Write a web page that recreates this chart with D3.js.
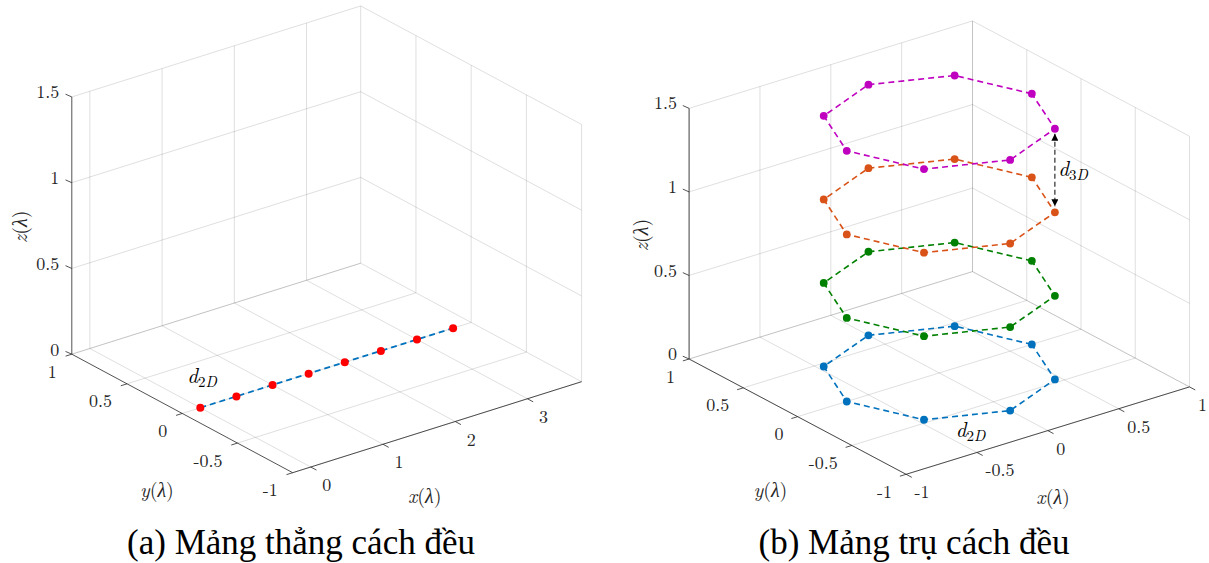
<!DOCTYPE html>
<html>
<head>
<meta charset="utf-8">
<script src="https://cdn.jsdelivr.net/npm/d3@7"></script>
<style>
  body { margin: 0; background: #fff; }
</style>
</head>
<body>
<svg id="chart" width="1209" height="563"></svg>
<script>
// ---- data, panel (a): uniform linear array on the x axis ----
const xTicksA = [0, 1, 2, 3];
const yTicksA = [-1, -0.5, 0, 0.5, 1];
const zTicksA = [0, 0.5, 1, 1.5];
const linearX = [0, 0.5, 1, 1.5, 2, 2.5, 3, 3.5];
const linearY = [0, 0, 0, 0, 0, 0, 0, 0];
const linearZ = [0, 0, 0, 0, 0, 0, 0, 0];

// ---- data, panel (b): stacked octagon rings (cylindrical array) ----
const xTicksB = [-1, -0.5, 0, 0.5, 1];
const yTicksB = [-1, -0.5, 0, 0.5, 1];
const zTicksB = [0, 0.5, 1, 1.5];
const ringX = [0.653, 0.462, 0, -0.462, -0.653, -0.462, 0, 0.462];
const ringY = [0, 0.462, 0.653, 0.462, 0, -0.462, -0.653, -0.462];
const ringLevels = [0, 0.5, 1, 1.5];
const ringColors = ["#0072BD", "#008000", "#D95319", "#BF00BF"];

const captions = ["(a) Mảng thẳng cách đều", "(b) Mảng trụ cách đều"];

const TEX = "'Latin Modern Roman'";   // MATLAB latex interpreter look
const CAP = "'Liberation Serif'";
const svg = d3.select("#chart");

svg.append("defs").append("marker")
    .attr("id", "arrowHead")
    .attr("viewBox", "0 0 10 10")
    .attr("refX", 10).attr("refY", 5)
    .attr("markerWidth", 7).attr("markerHeight", 7)
    .attr("markerUnits", "userSpaceOnUse")
    .attr("orient", "auto-start-reverse")
    .append("path")
    .attr("d", "M0,0 L10,5 L0,10 z")
    .attr("fill", "#000");

// orthographic view built from three floor corners (L = xmin/ymax, F = xmin/ymin, R = xmax/ymin)
function makeProjection(c) {
    const sx = d3.scaleLinear().domain(c.xDomain).range([0, 1]);
    const sy = d3.scaleLinear().domain(c.yDomain).range([0, 1]);
    const sz = d3.scaleLinear().domain([0, 1]).range([0, -c.zUnit]);
    const ex = [c.R[0] - c.F[0], c.R[1] - c.F[1]];
    const ey = [c.L[0] - c.F[0], c.L[1] - c.F[1]];
    const proj = (x, y, z) => [
        c.F[0] + sx(x) * ex[0] + sy(y) * ey[0],
        c.F[1] + sx(x) * ex[1] + sy(y) * ey[1] + sz(z)
    ];
    const unit = v => { const n = Math.hypot(v[0], v[1]); return [v[0] / n, v[1] / n]; };
    proj.xOut = unit([-ey[0], -ey[1]]);
    proj.yOut = unit([-ex[0], -ex[1]]);
    return proj;
}

function drawFrame(g, proj, c) {
    const [x0, x1] = c.xDomain, [y0, y1] = c.yDomain, [z0, z1] = c.zDomain;

    // grid on floor and the two back walls
    const segs = [];
    c.xTicks.forEach(t => { segs.push([[t, y0, z0], [t, y1, z0]]); segs.push([[t, y1, z0], [t, y1, z1]]); });
    c.yTicks.forEach(t => { segs.push([[x0, t, z0], [x1, t, z0]]); segs.push([[x1, t, z0], [x1, t, z1]]); });
    c.zTicks.forEach(t => { segs.push([[x0, y1, t], [x1, y1, t]]); segs.push([[x1, y0, t], [x1, y1, t]]); });

    g.append("g").selectAll("line")
        .data(segs)
        .enter().append("line")
        .attr("x1", d => proj(...d[0])[0]).attr("y1", d => proj(...d[0])[1])
        .attr("x2", d => proj(...d[1])[0]).attr("y2", d => proj(...d[1])[1])
        .attr("stroke", "#262626")
        .attr("stroke-opacity", 0.15)
        .attr("stroke-width", 1);

    const axes = g.append("g").attr("stroke", "#262626").attr("stroke-width", 0.8);
    const seg = (a, b) => axes.append("line")
        .attr("x1", a[0]).attr("y1", a[1]).attr("x2", b[0]).attr("y2", b[1]);

    seg(proj(x0, y0, z0), proj(x1, y0, z0));
    seg(proj(x0, y0, z0), proj(x0, y1, z0));
    seg(proj(x0, y1, z0), proj(x0, y1, z1));

    const tl = 6.5;
    const labels = g.append("g")
        .style("font-family", TEX)
        .style("font-size", "18px")
        .style("fill", "#262626");

    c.xTicks.forEach(t => {
        const p = proj(t, y0, z0);
        seg(p, [p[0] + proj.xOut[0] * tl, p[1] + proj.xOut[1] * tl]);
        labels.append("text")
            .attr("x", p[0] + c.xLab[0]).attr("y", p[1] + c.xLab[1])
            .attr("text-anchor", "start")
            .attr("dominant-baseline", "central")
            .text(String(t));
    });
    c.yTicks.forEach(t => {
        const p = proj(x0, t, z0);
        seg(p, [p[0] + proj.yOut[0] * tl, p[1] + proj.yOut[1] * tl]);
        labels.append("text")
            .attr("x", p[0] + c.yLab[0]).attr("y", p[1] + c.yLab[1])
            .attr("text-anchor", "end")
            .attr("dominant-baseline", "central")
            .text(String(t));
    });
    c.zTicks.forEach(t => {
        const p = proj(x0, y1, t);
        seg(p, [p[0] - 6.3, p[1] - 2.8]);
        labels.append("text")
            .attr("x", p[0] + c.zLab[0]).attr("y", p[1] + c.zLab[1])
            .attr("text-anchor", "end")
            .attr("dominant-baseline", "central")
            .text(String(t));
    });

    // axis titles
    const title = (pos, letter, rotate) => {
        const t = g.append("text")
            .attr("text-anchor", "middle")
            .attr("dominant-baseline", "central")
            .style("font-family", TEX)
            .style("font-size", "20px")
            .style("fill", "#262626")
            .attr("transform", `translate(${pos[0]},${pos[1]})` + (rotate ? " rotate(-90)" : ""));
        t.append("tspan").style("font-style", "italic").text(letter);
        t.append("tspan").text("(");
        t.append("tspan").style("font-style", "italic").text("λ");
        t.append("tspan").text(")");
    };
    title(c.xTitle, "x", false);
    title(c.yTitle, "y", false);
    title(c.zTitle, "z", true);
}

function dLabel(g, x, y, sub) {
    const t = g.append("text").attr("x", x).attr("y", y)
        .style("font-family", TEX)
        .style("fill", "#000");
    t.append("tspan").style("font-style", "italic").style("font-size", "21px").text("d");
    t.append("tspan").attr("dy", 4).style("font-size", "15px").text(sub[0]);
    t.append("tspan").style("font-style", "italic").style("font-size", "15px").text(sub[1]);
}

// ---------------- panel (a) ----------------
const cfgA = {
    xDomain: [-0.25, 3.75], yDomain: [-1, 1], zDomain: [0, 1.5],
    L: [71.8, 354.2], F: [292.7, 472.7], R: [581.6, 381.7], zUnit: 171.5,
    xTicks: xTicksA, yTicks: yTicksA, zTicks: zTicksA,
    xLab: [11.5, 16.5], yLab: [-15, 16], zLab: [-12.5, -6],
    xTitle: [424.8, 494.3], yTitle: [156.9, 487.7], zTitle: [18.4, 226.7]
};
const projA = makeProjection(cfgA);
const gA = svg.append("g");
drawFrame(gA, projA, cfgA);

const linePts = linearX.map((x, i) => projA(x, linearY[i], linearZ[i]));
gA.append("path")
    .attr("d", d3.line()(linePts))
    .attr("fill", "none")
    .attr("stroke", "#0072BD")
    .attr("stroke-width", 1.8)
    .attr("stroke-dasharray", "6,4");
gA.selectAll(".elem")
    .data(linePts)
    .enter().append("circle")
    .attr("cx", d => d[0]).attr("cy", d => d[1])
    .attr("r", 4)
    .attr("fill", "#FF0000");
dLabel(gA, 187.3, 383.3, ["2", "D"]);

// ---------------- panel (b) ----------------
const cfgB = {
    xDomain: [-1, 1], yDomain: [-1, 1], zDomain: [0, 1.5],
    L: [689.1, 359], F: [906.1, 474.3], R: [1189.5, 386.9], zUnit: 167.1,
    xTicks: xTicksB, yTicks: yTicksB, zTicks: zTicksB,
    xLab: [8.5, 16.5], yLab: [-14, 16], zLab: [-12, -6.4],
    xTitle: [1053.1, 495], yTitle: [770.4, 488.3], zTitle: [638.7, 235]
};
const projB = makeProjection(cfgB);
const gB = svg.append("g");
drawFrame(gB, projB, cfgB);

ringLevels.forEach((z, k) => {
    const pts = ringX.map((x, i) => projB(x, ringY[i], z));
    gB.append("path")
        .attr("d", d3.line().curve(d3.curveLinearClosed)(pts))
        .attr("fill", "none")
        .attr("stroke", ringColors[k])
        .attr("stroke-width", 1.6)
        .attr("stroke-dasharray", "6,4");
    gB.append("g").selectAll("circle")
        .data(pts)
        .enter().append("circle")
        .attr("cx", d => d[0]).attr("cy", d => d[1])
        .attr("r", 3.9)
        .attr("fill", ringColors[k]);
});

// vertical spacing arrow between the two top rings
const aTop = projB(ringX[7], ringY[7], ringLevels[3]);
const aBot = projB(ringX[7], ringY[7], ringLevels[2]);
gB.append("line")
    .attr("x1", aTop[0]).attr("y1", aTop[1] + 5)
    .attr("x2", aBot[0]).attr("y2", aBot[1] - 6)
    .attr("stroke", "#000")
    .attr("stroke-width", 1)
    .attr("stroke-dasharray", "5,3")
    .attr("marker-start", "url(#arrowHead)")
    .attr("marker-end", "url(#arrowHead)");
dLabel(gB, 1058.3, 176, ["3", "D"]);
dLabel(gB, 955.7, 436.5, ["2", "D"]);

// captions
svg.selectAll(".caption")
    .data(captions)
    .enter().append("text")
    .attr("class", "caption")
    .attr("x", (d, i) => i === 0 ? 301 : 914)
    .attr("y", 554)
    .attr("text-anchor", "middle")
    .style("font-family", CAP)
    .style("font-size", "35px")
    .style("fill", "#000")
    .text(d => d);
</script>
</body>
</html>
